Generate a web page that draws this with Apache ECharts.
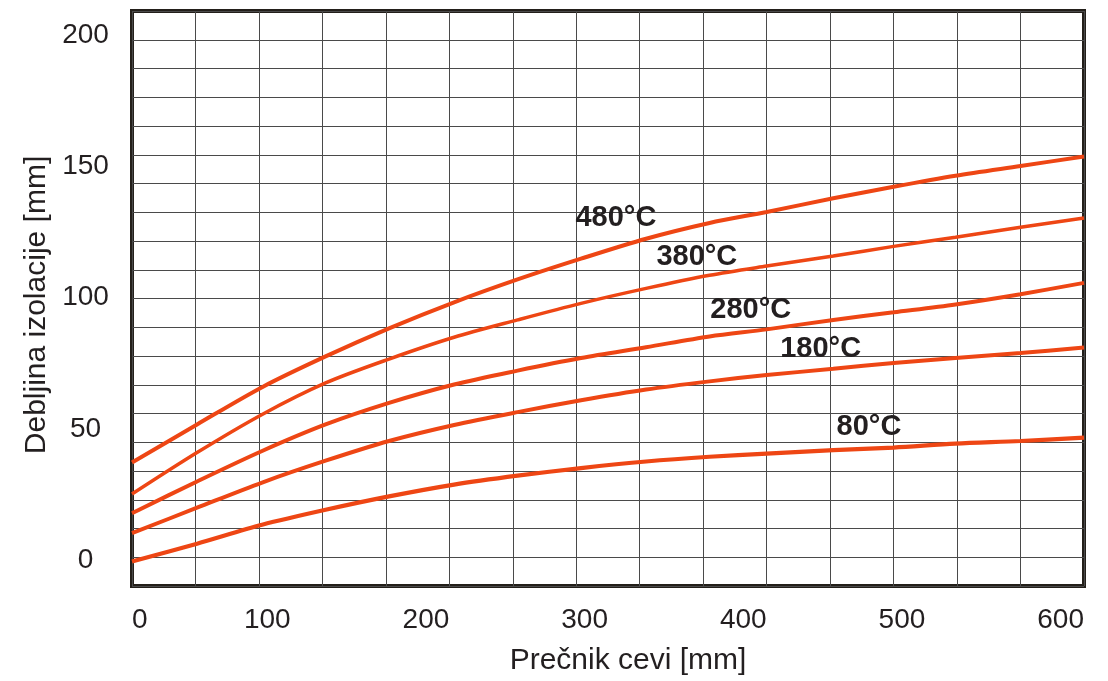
<!DOCTYPE html>
<html>
<head>
<meta charset="utf-8">
<script src="https://cdn.jsdelivr.net/npm/echarts@6/dist/echarts.min.js"></script>
<style>
  html, body { margin: 0; padding: 0; background: #ffffff; }
  #chart { width: 1108px; height: 681px; }
</style>
</head>
<body>
<div id="chart"></div>
<script>
// ---- data ----
const diameters = [0, 41, 82, 122, 162, 203, 243, 283, 324, 364, 400, 442, 480, 519, 560, 600];
const t480 = [37.2, 51.7, 65.9, 77.6, 88.3, 98.2, 106.9, 114.8, 122.4, 128.4, 132.6, 137.8, 142.2, 146.4, 150.1, 153.7];
const t380 = [25.2, 41.0, 55.5, 67.5, 76.6, 84.9, 91.5, 97.8, 103.5, 108.5, 112.0, 115.8, 119.5, 123.0, 126.8, 130.3];
const t280 = [17.9, 30.0, 41.6, 51.7, 59.9, 66.9, 72.2, 77.0, 81.1, 85.2, 87.9, 91.5, 94.4, 97.4, 101.3, 105.6];
const t180 = [10.3, 20.0, 29.6, 37.9, 45.4, 51.5, 56.4, 60.9, 65.0, 68.1, 70.5, 72.9, 75.1, 77.0, 78.9, 81.0];
const t80  = [-0.5, 6.3, 13.5, 19.2, 24.3, 28.8, 32.2, 35.1, 37.6, 39.4, 40.6, 41.9, 42.9, 44.4, 45.4, 46.7];
const seriesNames = ['480°C', '380°C', '280°C', '180°C', '80°C'];
const seriesValues = [t480, t380, t280, t180, t80];
// curve label anchors, in data units [diameter, thickness]
const labelAnchors = [[305, 130.2], [356, 115.6], [390, 95.1], [434, 80.3], [464.5, 50.8]];
const xTicks = [0, 100, 200, 300, 400, 500, 600];
const yTicks = [0, 50, 100, 150, 200];
const xTitle = 'Prečnik cevi [mm]';
const yTitle = 'Debljina izolacije [mm]';

// ---- styles ----
const FONT = '"Liberation Sans", Arial, Helvetica, sans-serif';
const TEXT = '#231f20';
const CURVE = '#ee4614';
const GRIDC = '#4a4a4a';
const widths = [4, 3.5, 4, 4, 4.2];

const chart = echarts.init(document.getElementById('chart'), null, { renderer: 'canvas' });

const series = seriesNames.map(function (name, i) {
  return {
    name: name,
    type: 'line',
    xAxisIndex: 0,
    yAxisIndex: 0,
    data: diameters.map(function (d, k) { return [d, seriesValues[i][k]]; }),
    smooth: 0.3,
    showSymbol: false,
    symbol: 'none',
    silent: true,
    z: 3,
    lineStyle: { color: CURVE, width: widths[i], cap: 'butt' },
    markPoint: {
      symbol: 'circle',
      symbolSize: 1,
      silent: true,
      itemStyle: { color: 'rgba(0,0,0,0)' },
      label: {
        show: true,
        position: 'inside',
        formatter: name,
        fontFamily: FONT,
        fontSize: 29,
        fontWeight: 'bold',
        color: TEXT
      },
      data: [{ coord: labelAnchors[i] }]
    }
  };
});

const option = {
  animation: false,
  backgroundColor: '#ffffff',
  grid: {
    left: 132, right: 24, top: 11, bottom: 92,
    show: true,
    borderColor: '#231f1a',
    borderWidth: 4,
    backgroundColor: 'transparent'
  },
  xAxis: [{
    type: 'value',
    min: 0, max: 600, interval: 40,
    axisLine: { show: false },
    axisTick: { show: false },
    splitLine: { show: true, lineStyle: { color: GRIDC, width: 1 } },
    axisLabel: {
      customValues: xTicks,
      align: 'right',
      alignMinLabel: 'left',
      margin: 20,
      fontFamily: FONT,
      fontSize: 28,
      color: TEXT
    },
    name: xTitle,
    nameLocation: 'middle',
    nameGap: 60,
    nameTextStyle: { fontFamily: FONT, fontSize: 30, color: TEXT, padding: [0, 0, 0, 40] }
  }],
  yAxis: [{
    type: 'value',
    min: -9.8, max: 209.1,
    axisLine: { show: false },
    axisTick: { show: false },
    splitLine: { show: false },
    axisLabel: {
      customValues: yTicks,
      align: 'center',
      margin: 46.5,
      fontFamily: FONT,
      fontSize: 28,
      color: TEXT
    },
    name: yTitle,
    nameLocation: 'middle',
    nameRotate: 90,
    nameGap: 80,
    nameTextStyle: { fontFamily: FONT, fontSize: 30, color: TEXT, padding: [0, 13, 0, 0] }
  }, {
    // decorative horizontal grid (20 equal bands)
    type: 'value',
    position: 'right',
    min: 0, max: 20, interval: 1,
    axisLine: { show: false },
    axisTick: { show: false },
    axisLabel: { show: false },
    splitLine: { show: true, lineStyle: { color: GRIDC, width: 1 } }
  }],
  series: series
};

chart.setOption(option);
</script>
</body>
</html>
